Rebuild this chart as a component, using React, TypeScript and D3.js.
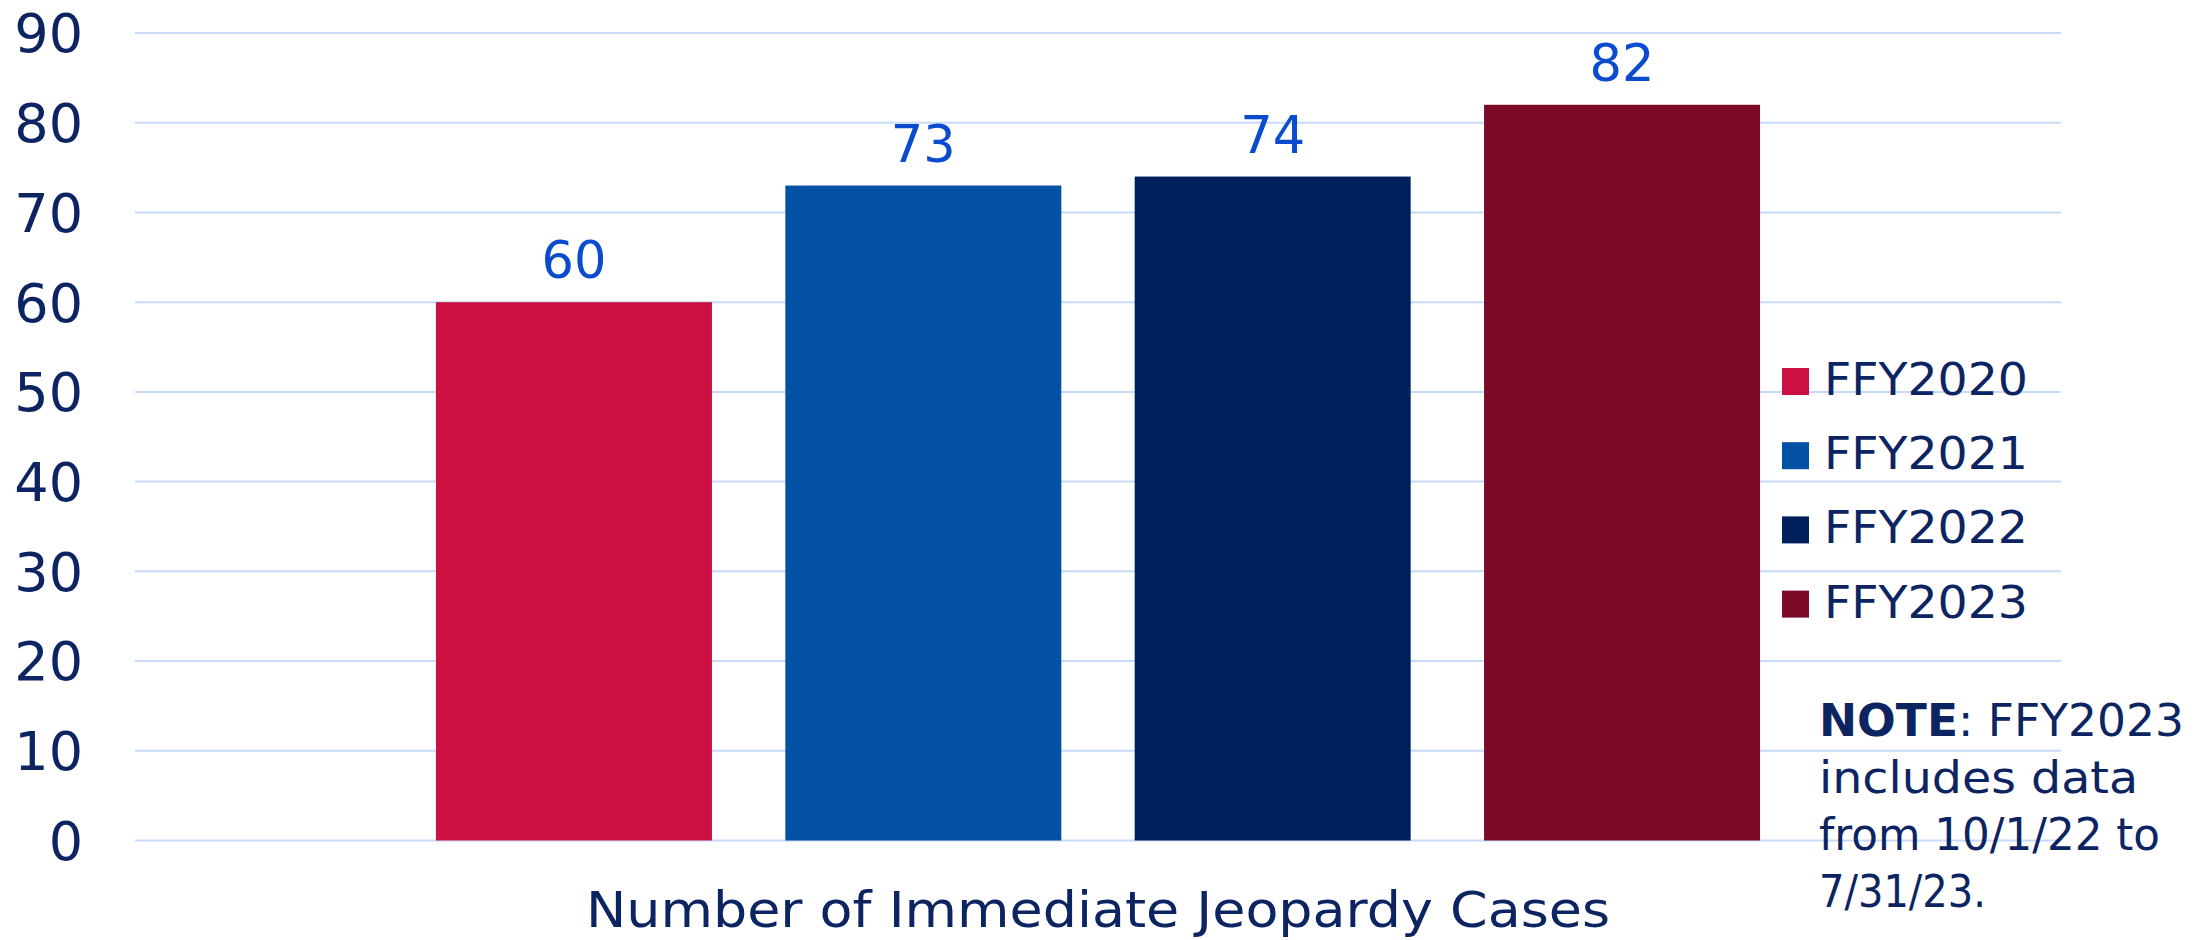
import React from "react";
import * as d3 from "d3";

const categories = ["Number of Immediate Jeopardy Cases"];
const seriesNames = ["FFY2020", "FFY2021", "FFY2022", "FFY2023"];
const seriesValues = [60, 73, 74, 82];
const seriesColors = ["#CC1142", "#0251A4", "#00205C", "#7B0B28"];
const yTicks = [0, 10, 20, 30, 40, 50, 60, 70, 80, 90];
const noteLines = ["FFY2023", "includes data", "from 10/1/22 to", "7/31/23."];

const W = 2204;
const H = 940;
const FONT = "'DejaVu Sans', 'Noto Sans', sans-serif";
const NAVY = "#0C2461";
const LABEL_BLUE = "#0A4BD0";
const GRID = "#C6DAF9";

export default function App() {
  React.useEffect(() => {
    document.body.style.margin = "0";
  }, []);

  const plotLeft = 135;
  const plotRight = 2061;
  const y = d3.scaleLinear().domain([0, 90]).range([840.5, 33]);
  const x0 = d3
    .scaleBand<string>()
    .domain(categories)
    .range([plotLeft, plotRight])
    .paddingInner(0)
    .paddingOuter(0.2273);
  const x1 = d3
    .scaleBand<string>()
    .domain(seriesNames)
    .range([0, x0.bandwidth()])
    .paddingInner(0.21)
    .paddingOuter(0);

  const noteWidths = [365, 319, 341, 167];

  return (
    <svg
      width={W}
      height={H}
      style={{ display: "block", position: "absolute", left: 0, top: 0, background: "#fff" }}
      fontFamily={FONT}
    >
      {/* gridlines */}
      {yTicks.map((t) => (
        <line
          key={"g" + t}
          x1={plotLeft}
          x2={plotRight}
          y1={y(t)}
          y2={y(t)}
          stroke={GRID}
          strokeWidth={2}
        />
      ))}
      {/* tick labels */}
      {yTicks.map((t) => (
        <text
          key={"t" + t}
          x={83}
          y={y(t)}
          dy="0.36em"
          textAnchor="end"
          fontSize={54}
          fill={NAVY}
        >
          {t}
        </text>
      ))}
      {/* bars */}
      {categories.map((c) => (
        <g key={c} transform={`translate(${x0(c)},0)`}>
          {seriesNames.map((s, i) => (
            <rect
              key={s}
              x={x1(s)}
              y={y(seriesValues[i])}
              width={x1.bandwidth()}
              height={y(0) - y(seriesValues[i])}
              fill={seriesColors[i]}
            />
          ))}
          {seriesNames.map((s, i) => (
            <text
              key={"v" + s}
              x={(x1(s) as number) + x1.bandwidth() / 2}
              y={y(seriesValues[i]) - 24}
              textAnchor="middle"
              fontSize={51}
              fill={LABEL_BLUE}
            >
              {seriesValues[i]}
            </text>
          ))}
        </g>
      ))}
      {/* category axis title */}
      {categories.map((c) => (
        <text
          key={"c" + c}
          x={(x0(c) as number) + x0.bandwidth() / 2}
          y={926.7}
          textAnchor="middle"
          fontSize={50}
          fill={NAVY}
          textLength={1024}
          lengthAdjust="spacingAndGlyphs"
        >
          {c}
        </text>
      ))}
      {/* legend */}
      {seriesNames.map((s, i) => (
        <g key={"l" + s} transform={`translate(1782,${395 + i * 74.2})`}>
          <rect x={0} y={-27} width={27} height={27} fill={seriesColors[i]} />
          <text
            x={42}
            y={0}
            fontSize={45}
            fill={NAVY}
            textLength={204}
            lengthAdjust="spacingAndGlyphs"
          >
            {s}
          </text>
        </g>
      ))}
      {/* note */}
      {noteLines.map((line, i) => (
        <text
          key={"n" + i}
          x={1819}
          y={735.5 + i * 57.3}
          fontSize={45}
          fill={NAVY}
          textLength={noteWidths[i]}
          lengthAdjust="spacingAndGlyphs"
        >
          {i === 0 ? (
            <>
              <tspan fontWeight="bold">NOTE</tspan>
              <tspan>: {line}</tspan>
            </>
          ) : (
            line
          )}
        </text>
      ))}
    </svg>
  );
}
